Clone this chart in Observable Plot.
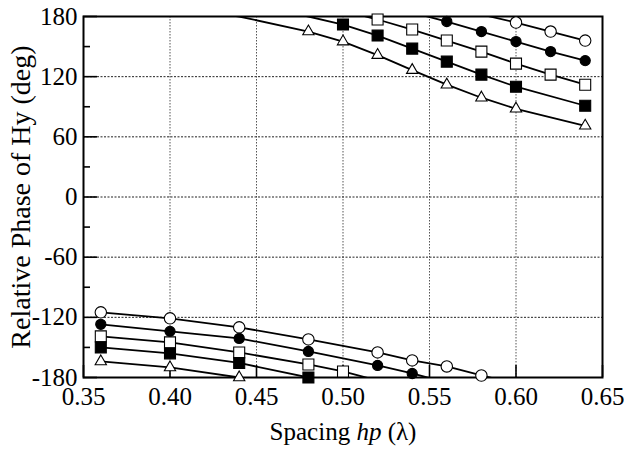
<!DOCTYPE html>
<html>
<head>
<meta charset="utf-8">
<script src="https://cdn.jsdelivr.net/npm/d3@7"></script>
<script src="https://cdn.jsdelivr.net/npm/@observablehq/plot@0.6"></script>
<style>
  html, body { margin: 0; padding: 0; background: #fff; }
</style>
</head>
<body>
<div id="chart"></div>
<script>
// ---- axis ticks / labels ----
const xTicks = [0.35, 0.40, 0.45, 0.50, 0.55, 0.60, 0.65];
const yTicks = [-180, -120, -60, 0, 60, 120, 180];
const yMinorTicks = [-150, -90, -30, 30, 90, 150];
const xGrid = [0.40, 0.45, 0.50, 0.55, 0.60];
const yGrid = [-120, -60, 0, 60, 120];
const xTitle = "Spacing hp (λ)";
const yTitle = "Relative Phase of Hy (deg)";

// ---- series (phase wraps at ±180) ----
const openCircleX   = [0.36, 0.40, 0.44, 0.48, 0.52, 0.54, 0.56, 0.58, 0.60, 0.62, 0.64];
const openCircleY   = [-115, -121, -130, -142, -155, -163, -169, -178, 174, 165, 156];

const filledCircleX = [0.36, 0.40, 0.44, 0.48, 0.52, 0.54, 0.56, 0.58, 0.60, 0.62, 0.64];
const filledCircleY = [-127, -134, -141, -154, -168, -176, 175, 165, 155, 145, 136];

const openSquareX   = [0.36, 0.40, 0.44, 0.48, 0.50, 0.52, 0.54, 0.56, 0.58, 0.60, 0.62, 0.64];
const openSquareY   = [-139, -145, -155, -167, -174, 177, 167, 156, 145, 133, 122, 112];

const filledSquareX = [0.36, 0.40, 0.44, 0.48, 0.50, 0.52, 0.54, 0.56, 0.58, 0.60, 0.64];
const filledSquareY = [-150, -156, -165.5, -180, 172, 161, 148, 135, 122, 110, 91];

const triangleX     = [0.36, 0.40, 0.44, 0.48, 0.50, 0.52, 0.54, 0.56, 0.58, 0.60, 0.64];
const triangleY     = [-164, -170, -180, 165, 155, 141.5, 126.5, 112, 99, 88, 71];

const series = [
  {name: "openCircle",   x: openCircleX,   y: openCircleY,   symbol: "circle",   fill: "white", r: 5.7},
  {name: "filledCircle", x: filledCircleX, y: filledCircleY, symbol: "circle",   fill: "black", r: 5.1},
  {name: "openSquare",   x: openSquareX,   y: openSquareY,   symbol: "square",   fill: "white", r: 6.2},
  {name: "filledSquare", x: filledSquareX, y: filledSquareY, symbol: "square",   fill: "black", r: 6.2},
  {name: "triangle",     x: triangleX,     y: triangleY,     symbol: "triangle", fill: "white", r: 4.2}
];

// unwrap phase so connecting segments run continuously; copies shifted by 360 are clipped by the frame
function unwrap(ys) {
  let off = 0;
  return ys.map((v, i) => {
    if (i > 0 && v - ys[i - 1] > 180) off -= 360;
    return v + off;
  });
}
const lineRows = [];
for (const s of series) {
  const u = unwrap(s.y);
  for (const shift of [0, 360]) {
    s.x.forEach((x, i) => lineRows.push({key: s.name + shift, x, y: u[i] + shift}));
  }
}

const dotMarks = series.map(s =>
  Plot.dot(s.x.map((x, i) => ({x, y: s.y[i]})), {
    x: "x", y: "y", symbol: s.symbol, r: s.r,
    fill: s.fill, stroke: "black", strokeWidth: 1.1
  })
);

const fs = 25;
const plot = Plot.plot({
  width: 624,
  height: 459,
  marginLeft: 83,
  marginRight: 22,
  marginTop: 16,
  marginBottom: 82,
  x: {domain: [0.35, 0.65]},
  y: {domain: [-180, 180]},
  style: {
    fontFamily: "'Liberation Serif', 'Times New Roman', serif",
    fontSize: fs + "px",
    background: "white",
    color: "black",
    overflow: "visible"
  },
  marks: [
    Plot.ruleX(xGrid, {stroke: "#555", strokeWidth: 1, strokeDasharray: "1.5,1.5"}),
    Plot.ruleY(yGrid, {stroke: "#222", strokeWidth: 1, strokeDasharray: "2,1.5"}),
    Plot.line(lineRows, {x: "x", y: "y", z: "key", stroke: "black", strokeWidth: 1.8, clip: true}),
    // inward major ticks
    Plot.axisX({ticks: xTicks, tickSize: 12, dy: -12, tickFormat: () => "", label: null, strokeWidth: 1.6}),
    Plot.axisY({ticks: yTicks, tickSize: 14, dx: 14, tickFormat: () => "", label: null, strokeWidth: 1.6}),
    Plot.axisY({ticks: yMinorTicks, tickSize: 7, dx: 7, tickFormat: () => "", label: null, strokeWidth: 1.6}),
    // tick labels
    Plot.axisX({ticks: xTicks, tickSize: 0, tickPadding: 10, tickFormat: d => d.toFixed(2), label: null, fontSize: fs}),
    Plot.axisY({ticks: yTicks, tickSize: 0, tickPadding: 6, tickFormat: d => String(d), label: null, fontSize: fs}),
    // axis titles
    Plot.text([xTitle], {frameAnchor: "bottom", textAnchor: "middle", dy: 62, text: d => d, fontSize: 25}),
    Plot.text([yTitle], {frameAnchor: "left", textAnchor: "middle", rotate: -90, dx: -62, text: d => d, fontSize: 28}),
    Plot.frame({stroke: "black", strokeWidth: 2}),
    ...dotMarks
  ]
});

// italicize "hp" in the x-axis title
d3.select(plot).selectAll("text").each(function () {
  if (this.textContent === xTitle) {
    const t = d3.select(this);
    t.text(null);
    t.append("tspan").text("Spacing ");
    t.append("tspan").attr("font-style", "italic").text("hp");
    t.append("tspan").text(" (λ)");
  }
});

document.getElementById("chart").appendChild(plot);
</script>
</body>
</html>
